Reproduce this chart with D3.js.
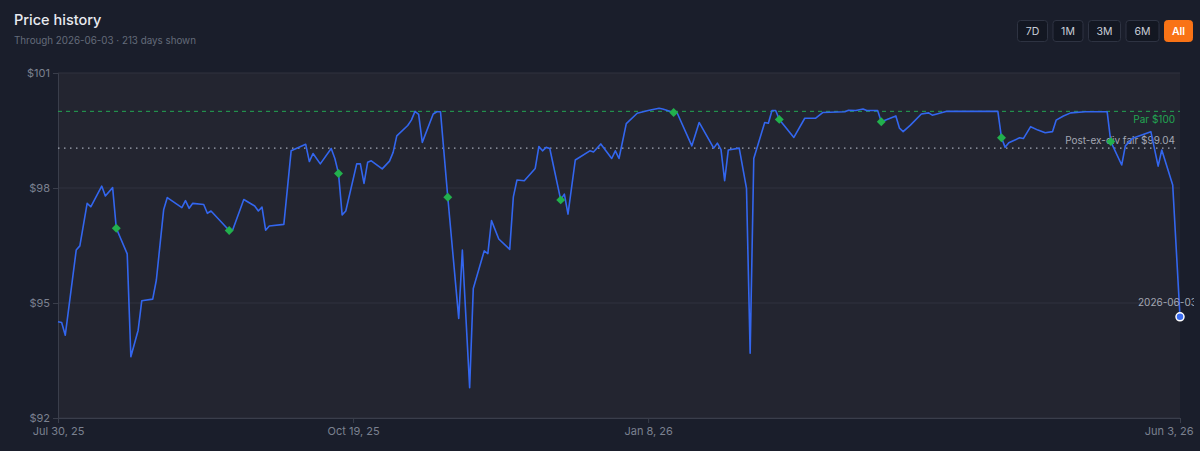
<!DOCTYPE html>
<html>
<head>
<meta charset="utf-8">
<script src="https://cdn.jsdelivr.net/npm/d3@7/dist/d3.min.js"></script>
<style>
  html, body { margin: 0; padding: 0; background: #1a1e2b; }
  svg { display: block; font-family: Inter, "Noto Sans", sans-serif; }
</style>
</head>
<body>
<svg id="chart" width="1200" height="451"></svg>
<script>
const dates = [
  "2025-07-30","2025-07-31","2025-08-01","2025-08-04","2025-08-05","2025-08-07","2025-08-08","2025-08-11","2025-08-12","2025-08-14",
  "2025-08-15","2025-08-18","2025-08-19","2025-08-21","2025-08-22","2025-08-25","2025-08-26","2025-08-28","2025-08-29","2025-09-02",
  "2025-09-03","2025-09-04","2025-09-05","2025-09-08","2025-09-09","2025-09-10","2025-09-15","2025-09-16","2025-09-19","2025-09-22",
  "2025-09-23","2025-09-24","2025-09-25","2025-09-26","2025-09-30","2025-10-02","2025-10-06","2025-10-07","2025-10-08","2025-10-10",
  "2025-10-13","2025-10-14","2025-10-15","2025-10-16","2025-10-17","2025-10-20","2025-10-21","2025-10-22","2025-10-23","2025-10-24",
  "2025-10-27","2025-10-29","2025-10-30","2025-10-31","2025-11-03","2025-11-04","2025-11-05","2025-11-06","2025-11-07","2025-11-10",
  "2025-11-11","2025-11-12","2025-11-14","2025-11-17","2025-11-18","2025-11-20","2025-11-21","2025-11-24","2025-11-25","2025-11-26",
  "2025-11-28","2025-12-01","2025-12-02","2025-12-03","2025-12-05","2025-12-08","2025-12-09","2025-12-10","2025-12-11","2025-12-12",
  "2025-12-15","2025-12-16","2025-12-17","2025-12-19","2025-12-23","2025-12-24","2025-12-26","2025-12-29","2025-12-30","2025-12-31",
  "2026-01-02","2026-01-05","2026-01-08","2026-01-11","2026-01-12","2026-01-15","2026-01-16","2026-01-20","2026-01-22","2026-01-26",
  "2026-01-27","2026-01-28","2026-01-29","2026-01-30","2026-02-02","2026-02-04","2026-02-05","2026-02-06","2026-02-09","2026-02-10",
  "2026-02-11","2026-02-12","2026-02-13","2026-02-17","2026-02-20","2026-02-23","2026-02-25","2026-03-03","2026-03-04","2026-03-06",
  "2026-03-08","2026-03-09","2026-03-12","2026-03-13","2026-03-17","2026-03-18","2026-03-19","2026-03-21","2026-03-24","2026-03-26",
  "2026-03-27","2026-03-29","2026-03-31","2026-04-06","2026-04-14","2026-04-15","2026-04-16","2026-04-17","2026-04-20","2026-04-21",
  "2026-04-23","2026-04-25","2026-04-27","2026-04-29","2026-04-30","2026-05-02","2026-05-04","2026-05-08","2026-05-14","2026-05-15",
  "2026-05-18","2026-05-19","2026-05-21","2026-05-26","2026-05-28","2026-05-29","2026-06-01","2026-06-03"
];
const prices = [
  94.51,94.49,94.16,96.38,96.49,97.60,97.51,98.05,97.79,98.01,
  96.95,96.28,93.60,94.29,95.06,95.10,95.60,97.43,97.75,97.49,
  97.67,97.47,97.60,97.57,97.34,97.40,96.89,96.92,97.70,97.53,
  97.40,97.50,96.90,97.01,97.05,98.97,99.14,98.69,98.90,98.63,
  99.03,98.77,98.38,97.30,97.40,98.63,98.63,98.12,98.67,98.71,
  98.50,98.70,98.93,99.36,99.63,99.77,100.00,99.92,99.19,99.93,
  99.99,99.99,97.76,94.60,96.38,92.79,95.38,96.36,96.29,97.15,
  96.67,96.40,97.77,98.21,98.19,98.51,99.08,98.97,99.06,99.03,
  97.69,97.84,97.32,98.73,98.97,98.94,99.15,98.77,98.97,98.77,
  99.68,99.95,100.02,100.08,100.06,99.97,99.95,99.10,99.71,99.04,
  99.17,99.00,98.19,98.99,99.04,97.99,93.69,98.77,99.71,99.69,
  100.02,100.02,99.79,99.32,99.82,99.82,99.97,99.99,100.03,100.02,
  100.06,100.02,100.02,99.73,99.88,99.56,99.47,99.64,99.93,99.96,
  99.90,99.95,100.00,100.00,100.00,99.31,99.06,99.18,99.31,99.29,
  99.60,99.51,99.44,99.47,99.77,99.88,99.96,99.99,99.99,99.21,
  98.60,99.10,99.30,99.47,98.57,98.99,98.08,94.64
];
const exDivDates = ["2025-08-15","2025-09-15","2025-10-15","2025-11-14","2025-12-15","2026-01-15","2026-02-13","2026-03-13","2026-04-15","2026-05-15"];
const yTicks = [92, 95, 98, 101];
const xTickDates = ["2025-07-30","2025-10-19","2026-01-08","2026-06-03"];
const refLevels = [100, 99.04];
const refLabels = ["Par $100", "Post-ex-div fair $99.04"];
const rangeButtons = ["7D","1M","3M","6M","All"];
const activeButton = "All";
const titleText = "Price history";
const subtitleText = "Through 2026-06-03 · 213 days shown";

const parse = d3.timeParse("%Y-%m-%d");
const series = dates.map((d, i) => ({ date: parse(d), price: prices[i] }));
const byDate = new Map(dates.map((d, i) => [d, i]));
const markers = exDivDates.map(d => series[byDate.get(d)]);

const W = 1200, H = 451;
const margin = { top: 73, right: 20, bottom: 33, left: 58 };
const iw = W - margin.left - margin.right;
const ih = H - margin.top - margin.bottom;

const svg = d3.select("#chart");

// Header
svg.append("text").attr("x", 14).attr("y", 25)
  .attr("fill", "#e8eaf0").attr("font-size", 14.5).attr("font-weight", 500)
  .text(titleText);
svg.append("text").attr("x", 14).attr("y", 44)
  .attr("fill", "#646b7a").attr("font-size", 9.8)
  .text(subtitleText);

// Buttons
const btnWidths = [31, 31, 33, 34, 29];
const btnGap = 4.5;
let bx = 1193 - d3.sum(btnWidths) - btnGap * (btnWidths.length - 1);
const btnG = svg.append("g");
rangeButtons.forEach((b, i) => {
  const active = b === activeButton;
  const g = btnG.append("g").attr("transform", `translate(${bx},20)`);
  g.append("rect").attr("x", 0.5).attr("y", 0.5)
    .attr("width", btnWidths[i] - 1).attr("height", 21).attr("rx", 3)
    .attr("fill", active ? "#f97316" : "#131722")
    .attr("stroke", active ? "#f97316" : "#2e3342");
  g.append("text").attr("x", btnWidths[i] / 2).attr("y", 15)
    .attr("text-anchor", "middle").attr("font-size", 10.5)
    .attr("font-weight", active ? 600 : 400)
    .attr("fill", active ? "#ffffff" : "#c9ced8")
    .text(b);
  bx += btnWidths[i] + btnGap;
});

const x = d3.scaleTime()
  .domain([parse(xTickDates[0]), parse(xTickDates[xTickDates.length - 1])])
  .range([0, iw]);
const y = d3.scaleLinear().domain([92, 101]).range([ih, 0]);

const g = svg.append("g").attr("transform", `translate(${margin.left},${margin.top})`);

svg.append("defs").append("clipPath").attr("id", "plotclip")
  .append("rect").attr("x", 0).attr("y", -2).attr("width", iw + 14).attr("height", ih + 4);

// plot background
g.append("rect").attr("width", iw).attr("height", ih).attr("fill", "#232530");

// gridlines
g.append("g").selectAll("line").data(yTicks).join("line")
  .attr("x1", 0).attr("x2", iw)
  .attr("y1", d => y(d)).attr("y2", d => y(d))
  .attr("stroke", "#30333f").attr("stroke-width", 1);

// axes
const yAxis = g.append("g").call(
  d3.axisLeft(y).tickValues(yTicks).tickSize(5).tickPadding(3).tickFormat(d => "$" + d)
);
yAxis.select(".domain").attr("stroke", "#3a3e4b");
yAxis.selectAll(".tick line").attr("stroke", "#3a3e4b");
yAxis.selectAll(".tick text").attr("fill", "#7b8190").attr("font-size", 11)
  .attr("font-family", "Inter, 'Noto Sans', sans-serif");

const xAxis = g.append("g").attr("transform", `translate(0,${ih})`).call(
  d3.axisBottom(x).tickValues(xTickDates.map(parse)).tickSize(5).tickPadding(4)
    .tickFormat(d3.timeFormat("%b %-d, %y"))
);
xAxis.select(".domain").attr("stroke", "#3a3e4b");
xAxis.selectAll(".tick line").attr("stroke", "#3a3e4b");
xAxis.selectAll(".tick text").attr("fill", "#7b8190").attr("font-size", 11)
  .attr("font-family", "Inter, 'Noto Sans', sans-serif");
xAxis.selectAll(".tick text").filter((d, i, n) => i === n.length - 1)
  .attr("text-anchor", "end").attr("x", 13);

// reference lines
const refG = g.append("g");
refG.append("line").attr("x1", 0).attr("x2", iw)
  .attr("y1", y(refLevels[0])).attr("y2", y(refLevels[0]))
  .attr("stroke", "#22a552").attr("stroke-width", 1).attr("stroke-dasharray", "4,4");
refG.append("line").attr("x1", 0).attr("x2", iw)
  .attr("y1", y(refLevels[1])).attr("y2", y(refLevels[1]))
  .attr("stroke", "#a3a8b4").attr("stroke-width", 1.2).attr("stroke-dasharray", "1.5,4.5");
refG.append("text").attr("x", iw - 5).attr("y", y(refLevels[0]) + 11.5)
  .attr("text-anchor", "end").attr("font-size", 10).attr("fill", "#22a552")
  .text(refLabels[0]);
refG.append("text").attr("x", iw - 5).attr("y", y(refLevels[1]) - 4)
  .attr("text-anchor", "end").attr("font-size", 10).attr("fill", "#a3a8b4")
  .text(refLabels[1]);

// price line
const line = d3.line().x(d => x(d.date)).y(d => y(d.price));
g.append("path").datum(series)
  .attr("fill", "none").attr("stroke", "#3366ee").attr("stroke-width", 1.6)
  .attr("stroke-linejoin", "round").attr("d", line);

// ex-div markers
g.append("g").selectAll("path").data(markers).join("path")
  .attr("transform", d => `translate(${x(d.date)},${y(d.price)}) rotate(45)`)
  .attr("d", d3.symbol().type(d3.symbolSquare).size(40))
  .attr("fill", "#22b04d");

// last point + label
const last = series[series.length - 1];
g.append("text").attr("clip-path", "url(#plotclip)")
  .attr("x", x(last.date) - 42).attr("y", y(last.price) - 11)
  .attr("text-anchor", "start").attr("font-size", 10).attr("fill", "#a3a8b4")
  .text(d3.timeFormat("%Y-%m-%d")(last.date) + " $" + last.price.toFixed(2));
g.append("circle").attr("cx", x(last.date)).attr("cy", y(last.price)).attr("r", 4)
  .attr("fill", "#3b6cf0").attr("stroke", "#ffffff").attr("stroke-width", 1.5);
</script>
</body>
</html>
